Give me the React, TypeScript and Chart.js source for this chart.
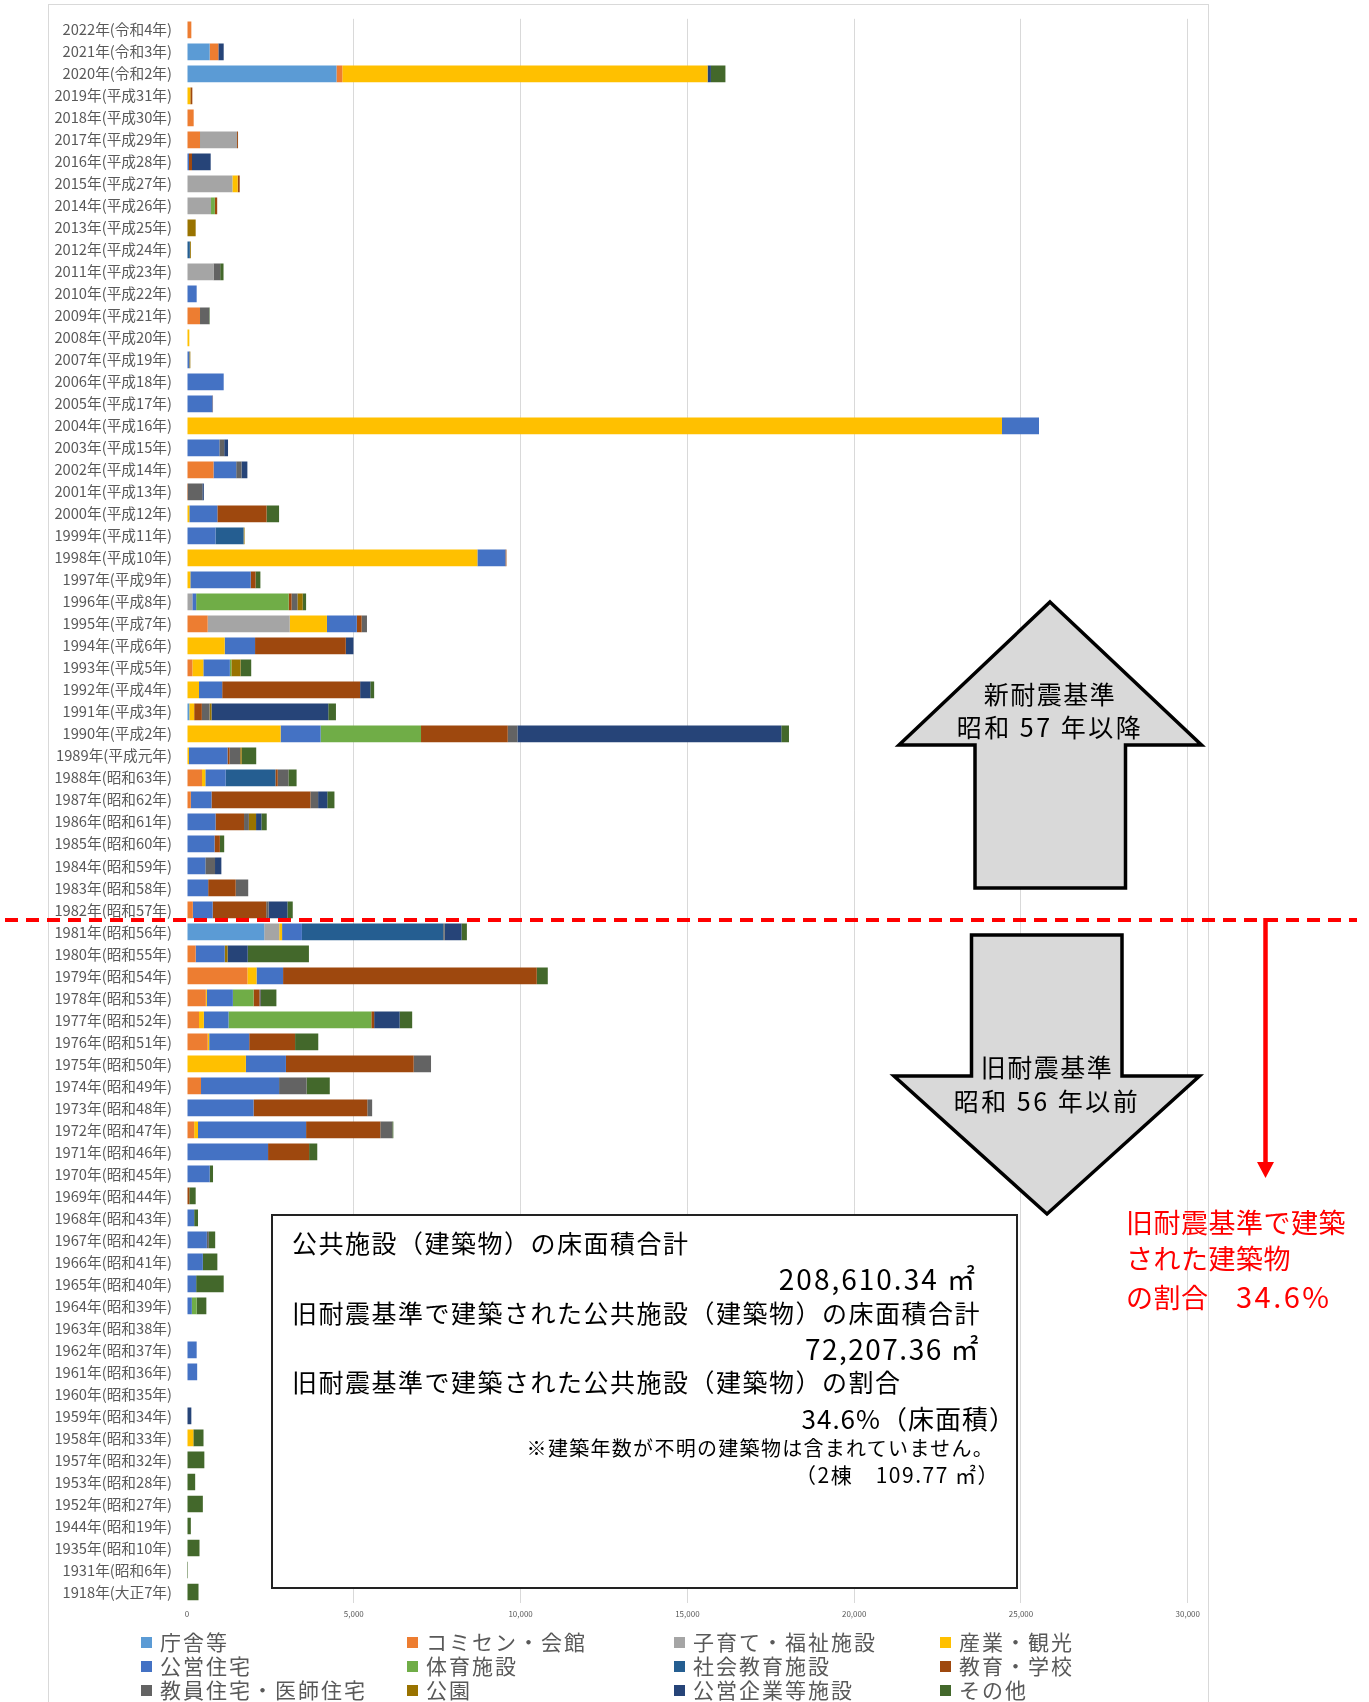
import React, { useEffect, useRef } from "react";
import { Chart, registerables } from "chart.js";

Chart.register(...registerables);

const FONT = '"Noto Sans CJK JP", "Noto Sans", sans-serif';

const categories = [
  "2022年(令和4年)", "2021年(令和3年)", "2020年(令和2年)", "2019年(平成31年)", "2018年(平成30年)",
  "2017年(平成29年)", "2016年(平成28年)", "2015年(平成27年)", "2014年(平成26年)", "2013年(平成25年)",
  "2012年(平成24年)", "2011年(平成23年)", "2010年(平成22年)", "2009年(平成21年)", "2008年(平成20年)",
  "2007年(平成19年)", "2006年(平成18年)", "2005年(平成17年)", "2004年(平成16年)", "2003年(平成15年)",
  "2002年(平成14年)", "2001年(平成13年)", "2000年(平成12年)", "1999年(平成11年)", "1998年(平成10年)",
  "1997年(平成9年)", "1996年(平成8年)", "1995年(平成7年)", "1994年(平成6年)", "1993年(平成5年)",
  "1992年(平成4年)", "1991年(平成3年)", "1990年(平成2年)", "1989年(平成元年)", "1988年(昭和63年)",
  "1987年(昭和62年)", "1986年(昭和61年)", "1985年(昭和60年)", "1984年(昭和59年)", "1983年(昭和58年)",
  "1982年(昭和57年)", "1981年(昭和56年)", "1980年(昭和55年)", "1979年(昭和54年)", "1978年(昭和53年)",
  "1977年(昭和52年)", "1976年(昭和51年)", "1975年(昭和50年)", "1974年(昭和49年)", "1973年(昭和48年)",
  "1972年(昭和47年)", "1971年(昭和46年)", "1970年(昭和45年)", "1969年(昭和44年)", "1968年(昭和43年)",
  "1967年(昭和42年)", "1966年(昭和41年)", "1965年(昭和40年)", "1964年(昭和39年)", "1963年(昭和38年)",
  "1962年(昭和37年)", "1961年(昭和36年)", "1960年(昭和35年)", "1959年(昭和34年)", "1958年(昭和33年)",
  "1957年(昭和32年)", "1953年(昭和28年)", "1952年(昭和27年)", "1944年(昭和19年)", "1935年(昭和10年)",
  "1931年(昭和6年)", "1918年(大正7年)",
];

// 庁舎等
const chosha = [
  0, 680, 4480, 0, 0, 0, 0, 0, 0, 0,
  0, 0, 0, 0, 0, 0, 0, 0, 0, 0,
  0, 0, 0, 0, 0, 0, 0, 0, 0, 0,
  0, 70, 0, 0, 0, 0, 0, 0, 0, 0,
  0, 2315, 0, 0, 0, 0, 0, 0, 0, 0,
  0, 0, 0, 0, 0, 0, 0, 0, 0, 0,
  0, 0, 0, 0, 0, 0, 0, 0, 0, 0,
  0, 0,
];
// コミセン・会館
const komisen = [
  130, 260, 175, 0, 200, 390, 0, 0, 0, 0,
  0, 0, 0, 390, 0, 0, 0, 0, 0, 0,
  795, 0, 0, 0, 0, 0, 0, 620, 0, 160,
  0, 0, 0, 0, 450, 115, 0, 0, 0, 0,
  175, 0, 260, 1810, 565, 360, 620, 0, 420, 0,
  215, 0, 0, 0, 0, 0, 0, 0, 0, 0,
  0, 0, 0, 0, 0, 0, 0, 0, 0, 0,
  0, 0,
];
// 子育て・福祉施設
const kosodate = [
  0, 0, 0, 0, 0, 1110, 0, 1360, 720, 0,
  0, 795, 0, 0, 0, 0, 0, 0, 0, 0,
  0, 0, 0, 0, 0, 0, 160, 2460, 0, 0,
  0, 0, 0, 0, 0, 0, 0, 0, 0, 0,
  0, 450, 0, 0, 0, 0, 0, 0, 0, 0,
  0, 0, 0, 0, 0, 0, 0, 0, 0, 0,
  0, 0, 0, 0, 0, 0, 0, 0, 0, 0,
  0, 0,
];
// 産業・観光
const sangyo = [
  0, 0, 10950, 100, 0, 0, 0, 160, 0, 0,
  0, 0, 0, 0, 70, 0, 0, 0, 24430, 0,
  0, 0, 70, 0, 8705, 100, 0, 1115, 1130, 330,
  360, 145, 2805, 60, 100, 0, 0, 0, 0, 0,
  0, 85, 0, 275, 30, 145, 45, 1765, 0, 0,
  115, 0, 0, 0, 0, 0, 0, 0, 0, 0,
  0, 0, 0, 0, 190, 0, 0, 0, 0, 0,
  0, 0,
];
// 公営住宅
const koei = [
  0, 0, 0, 0, 0, 0, 60, 0, 0, 0,
  0, 0, 290, 0, 0, 70, 1100, 765, 1110, 970,
  680, 0, 840, 855, 840, 1810, 115, 895, 910, 795,
  695, 0, 1200, 1155, 610, 620, 855, 825, 550, 635,
  595, 595, 870, 795, 780, 740, 1200, 1200, 2340, 1995,
  3240, 2430, 680, 0, 215, 595, 475, 275, 145, 0,
  290, 305, 0, 0, 0, 0, 0, 0, 0, 0,
  0, 0,
];
// 体育施設
const taiiku = [
  0, 0, 0, 0, 0, 0, 0, 0, 115, 0,
  0, 0, 0, 0, 0, 0, 0, 0, 0, 0,
  0, 0, 0, 0, 0, 0, 2775, 0, 0, 45,
  0, 0, 3010, 0, 0, 0, 0, 0, 0, 0,
  0, 0, 0, 0, 620, 4280, 0, 0, 0, 0,
  0, 0, 0, 0, 0, 0, 0, 0, 145, 0,
  0, 0, 0, 0, 0, 0, 0, 0, 0, 0,
  0, 0,
];
// 社会教育施設
const shakai = [
  0, 0, 0, 0, 0, 0, 0, 0, 0, 0,
  85, 0, 0, 0, 0, 0, 0, 0, 0, 0,
  0, 0, 0, 840, 0, 0, 0, 0, 0, 0,
  0, 0, 0, 0, 1490, 0, 0, 0, 0, 0,
  0, 4235, 0, 0, 0, 0, 0, 0, 0, 0,
  0, 0, 0, 0, 0, 0, 0, 0, 0, 0,
  0, 0, 0, 0, 0, 0, 0, 0, 0, 0,
  0, 0,
];
// 教育・学校
const kyoiku = [
  0, 0, 0, 60, 0, 30, 90, 60, 70, 0,
  0, 0, 0, 0, 0, 0, 0, 15, 0, 0,
  0, 30, 1475, 0, 30, 145, 85, 145, 2720, 0,
  4135, 230, 2600, 60, 70, 2965, 855, 160, 0, 825,
  1605, 0, 0, 7605, 175, 85, 1375, 3830, 0, 3410,
  2225, 1230, 0, 70, 0, 0, 0, 0, 0, 0,
  0, 0, 0, 0, 0, 0, 0, 0, 0, 0,
  0, 0,
];
// 教員住宅・医師住宅
const kyoin = [
  0, 0, 0, 0, 0, 0, 0, 0, 0, 0,
  0, 200, 0, 275, 0, 0, 0, 0, 0, 145,
  160, 430, 0, 0, 0, 0, 175, 160, 0, 0,
  0, 230, 290, 320, 320, 230, 145, 0, 290, 375,
  70, 45, 0, 0, 45, 0, 0, 520, 825, 145,
  360, 0, 0, 0, 0, 60, 0, 0, 0, 0,
  0, 0, 0, 0, 0, 0, 0, 0, 0, 0,
  0, 0,
];
// 公園
const koen = [
  0, 0, 0, 0, 0, 0, 0, 0, 0, 260,
  30, 0, 0, 0, 0, 30, 0, 0, 0, 0,
  0, 0, 0, 30, 0, 0, 160, 0, 0, 275,
  0, 60, 0, 45, 0, 0, 215, 0, 0, 0,
  0, 0, 85, 0, 0, 0, 0, 0, 0, 0,
  0, 0, 0, 0, 0, 0, 0, 0, 0, 0,
  0, 0, 0, 0, 0, 0, 0, 0, 0, 0,
  0, 0,
];
// 公営企業等施設
const kigyo = [
  0, 160, 100, 0, 0, 0, 560, 0, 0, 0,
  0, 0, 0, 0, 0, 0, 0, 0, 0, 115,
  175, 45, 0, 0, 0, 0, 0, 0, 230, 0,
  305, 3500, 7910, 0, 0, 275, 160, 0, 190, 0,
  565, 505, 605, 0, 0, 765, 0, 0, 0, 0,
  0, 0, 0, 0, 0, 0, 0, 0, 0, 0,
  0, 0, 0, 130, 0, 0, 0, 0, 0, 0,
  0, 0,
];
// その他
const sonota = [
  0, 0, 435, 0, 0, 0, 0, 0, 0, 0,
  0, 100, 0, 15, 0, 0, 0, 0, 0, 0,
  0, 0, 375, 0, 0, 145, 100, 0, 0, 320,
  115, 230, 230, 435, 245, 215, 160, 130, 0, 0,
  160, 160, 1835, 330, 465, 375, 695, 0, 695, 0,
  30, 245, 100, 190, 115, 190, 435, 825, 290, 0,
  0, 0, 0, 0, 305, 520, 245, 475, 115, 375,
  30, 345,
];

const seriesNames = [
  "庁舎等", "コミセン・会館", "子育て・福祉施設", "産業・観光",
  "公営住宅", "体育施設", "社会教育施設", "教育・学校",
  "教員住宅・医師住宅", "公園", "公営企業等施設", "その他",
];
const seriesValues = [chosha, komisen, kosodate, sangyo, koei, taiiku, shakai, kyoiku, kyoin, koen, kigyo, sonota];
const seriesColors = [
  "#5B9BD5", "#ED7D31", "#A5A5A5", "#FFC000",
  "#4472C4", "#70AD47", "#255E91", "#9E480E",
  "#636363", "#997300", "#264478", "#43682B",
];

const xMax = 30000;
const xStep = 5000;

const boxLines = [
  "公共施設（建築物）の床面積合計",
  "208,610.34 ㎡",
  "旧耐震基準で建築された公共施設（建築物）の床面積合計",
  "72,207.36 ㎡",
  "旧耐震基準で建築された公共施設（建築物）の割合",
  "34.6%（床面積）",
  "※建築年数が不明の建築物は含まれていません。",
  "（2棟　109.77 ㎡）",
];
const redNote = ["旧耐震基準で建築", "された建築物", "の割合　", "34.6%"];

const PAGE_W = 1369;

function Txt(props: {
  x?: number;
  right?: number;
  cx?: number;
  y: number;
  size: number;
  color?: string;
  text?: string;
  spacing?: number;
  children?: React.ReactNode;
}) {
  const h = props.size * 1.5;
  const style: React.CSSProperties = {
    position: "absolute",
    top: props.y - h / 2,
    height: h,
    lineHeight: h + "px",
    fontSize: props.size,
    color: props.color || "#000",
    whiteSpace: "nowrap",
    letterSpacing: props.spacing ? props.spacing + "px" : undefined,
  };
  if (props.cx !== undefined) {
    style.left = props.cx - 300;
    style.width = 600;
    style.textAlign = "center";
  } else if (props.right !== undefined) {
    style.right = PAGE_W - props.right;
    style.textAlign = "right";
  } else {
    style.left = props.x;
  }
  return <div style={style}>{props.text}{props.children}</div>;
}

export default function App() {
  const canvasRef = useRef<HTMLCanvasElement | null>(null);

  useEffect(() => {
    const canvas = canvasRef.current;
    if (!canvas) return;
    const chart = new Chart(canvas, {
      type: "bar",
      data: {
        labels: categories,
        datasets: seriesNames.map((name, i) => ({
          label: name,
          data: seriesValues[i],
          backgroundColor: seriesColors[i],
          borderWidth: 0,
          categoryPercentage: 1,
          barPercentage: 0.76,
        })),
      },
      options: {
        indexAxis: "y",
        responsive: false,
        animation: false,
        devicePixelRatio: 1,
        layout: { padding: { top: 0, right: 16, bottom: 11, left: 0 } },
        plugins: { legend: { display: false }, tooltip: { enabled: false } },
        scales: {
          x: {
            stacked: true,
            min: 0,
            max: xMax,
            ticks: { stepSize: xStep, font: { size: 8, family: FONT }, color: "#595959", padding: 6 },
            grid: {
              color: (ctx: any) => (ctx.tick && ctx.tick.value === 0 ? "rgba(0,0,0,0)" : "#d9d9d9"),
              drawTicks: false,
              lineWidth: 1,
            },
            border: { display: false },
            afterFit: (s: any) => {
              s.height = 20;
            },
          },
          y: {
            stacked: true,
            ticks: { font: { size: 14.7, family: FONT }, color: "#595959", padding: 15, autoSkip: false },
            grid: { display: false, drawTicks: false },
            border: { display: false },
            afterFit: (s: any) => {
              s.width = 137;
            },
          },
        },
      },
    } as any);
    return () => chart.destroy();
  }, []);

  const legendCols = [141, 407, 674, 940];
  const legendRows = [1642, 1666, 1690];

  return (
    <div
      style={{
        position: "absolute",
        left: 0,
        top: 0,
        width: 1369,
        height: 1702,
        overflow: "hidden",
        background: "#fff",
        fontFamily: FONT,
      }}
    >
      <div
        style={{
          position: "absolute",
          left: 48,
          top: 4,
          width: 1161,
          height: 1720,
          border: "1px solid #d9d9d9",
          boxSizing: "border-box",
        }}
      />
      <canvas
        ref={canvasRef}
        width={1156}
        height={1639}
        style={{ position: "absolute", left: 50, top: -5, width: 1156, height: 1639 }}
      />
      {seriesNames.map((name, i) => {
        const col = i % 4;
        const row = Math.floor(i / 4);
        const x = legendCols[col];
        const y = legendRows[row];
        return (
          <React.Fragment key={name}>
            <div
              style={{
                position: "absolute",
                left: x,
                top: y - 5,
                width: 11,
                height: 11,
                background: seriesColors[i],
              }}
            />
            <Txt x={x + 19} y={y} size={21} spacing={2} color="#595959" text={name} />
          </React.Fragment>
        );
      })}

      <svg
        width={1369}
        height={1702}
        style={{ position: "absolute", left: 0, top: 0, pointerEvents: "none" }}
      >
        <polygon
          points="1050,602 1201.5,745 1125.5,745 1125.5,888 975,888 975,745 899,745"
          fill="#d9d9d9"
          stroke="#000"
          strokeWidth={3.5}
          strokeLinejoin="miter"
        />
        <polygon
          points="971.5,935 1122,935 1122,1076 1199.5,1076 1047,1214 894,1076 971.5,1076"
          fill="#d9d9d9"
          stroke="#000"
          strokeWidth={3.5}
          strokeLinejoin="miter"
        />
        <line x1={5} y1={920} x2={1357} y2={920} stroke="#ff0000" strokeWidth={4} strokeDasharray="13 8" />
        <line x1={1265.5} y1={918} x2={1265.5} y2={1166} stroke="#ff0000" strokeWidth={4.5} />
        <polygon points="1257,1162 1274,1162 1265.5,1178" fill="#ff0000" />
      </svg>

      <Txt cx={1050} y={694} size={25} text="新耐震基準" spacing={1.5} />
      <Txt cx={1050} y={727} size={25} text="昭和 57 年以降" spacing={2.5} />
      <Txt cx={1047} y={1067} size={25} text="旧耐震基準" spacing={1.5} />
      <Txt cx={1047} y={1101} size={25} text="昭和 56 年以前" spacing={2.5} />

      <div
        style={{
          position: "absolute",
          left: 271,
          top: 1214,
          width: 747,
          height: 375,
          border: "2px solid #222",
          boxSizing: "border-box",
          background: "#fff",
        }}
      />
      <Txt x={292} y={1243} size={25} spacing={1.5} text={boxLines[0]} />
      <Txt right={977} y={1278} size={28} spacing={2} text={boxLines[1]} />
      <Txt x={292} y={1313} size={25} spacing={1.5} text={boxLines[2]} />
      <Txt right={980} y={1348} size={28} spacing={1.5} text={boxLines[3]} />
      <Txt x={292} y={1382} size={25} spacing={1.5} text={boxLines[4]} />
      <Txt right={1016} y={1417} size={26} spacing={1} text={boxLines[5]} />
      <Txt right={994} y={1448} size={20} spacing={1.3} text={boxLines[6]} />
      <Txt right={1000} y={1475} size={21} spacing={1.5} text={boxLines[7]} />

      <Txt x={1126} y={1222} size={27} spacing={0.5} color="#ff0000" text={redNote[0]} />
      <Txt x={1126} y={1258} size={27} spacing={0.5} color="#ff0000" text={redNote[1]} />
      <Txt x={1126} y={1295} size={27} spacing={0.5} color="#ff0000">
        {redNote[2]}
        <span style={{ fontSize: 29, letterSpacing: "2.5px" }}>{redNote[3]}</span>
      </Txt>
    </div>
  );
}
